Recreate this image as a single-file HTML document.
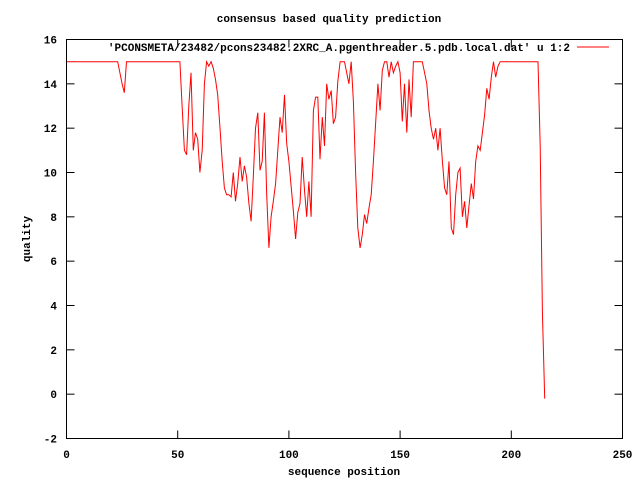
<!DOCTYPE html>
<html><head><meta charset="utf-8"><style>
body{margin:0;background:#fff}
svg{display:block}
text{font-family:"Liberation Mono",monospace;font-weight:bold;font-size:11px;fill:#000}
</style></head><body>
<svg width="640" height="480">
<g id="axes"></g>
<text x="329" y="22" text-anchor="middle">consensus based quality prediction</text>
<text x="344" y="475" text-anchor="middle">sequence position</text>
<text transform="translate(30,239) rotate(-90)" text-anchor="middle">quality</text>
<text x="570" y="51" text-anchor="end">'PCONSMETA/23482/pcons23482.2XRC_A.pgenthreader.5.pdb.local.dat' u 1:2</text>
<line x1="577" y1="47" x2="609" y2="47" stroke="#f00" stroke-width="1"/>
<path id="series" fill="none" stroke="#f00" stroke-width="1"/>
<rect x="66.5" y="39.5" width="556" height="399" fill="none" stroke="#000"/>
</svg>
<script>
const xTicks=[0,50,100,150,200,250];
const yTicks=[-2,0,2,4,6,8,10,12,14,16];
const quality=[15,15,15,15,15,15,15,15,15,15,15,15,15,15,15,15,15,15,15,15,15,15,15,15,14.5,14,13.6,15,15,15,15,15,15,15,15,15,15,15,15,15,15,15,15,15,15,15,15,15,15,15,15,15,
13,11,10.8,13,14.5,11,11.8,11.5,10,11,14,15,14.8,15,14.7,14.2,13.5,12,10.5,9.3,9,9,8.9,10,8.7,9.5,10.7,9.6,10.3,9.8,8.6,7.8,9.8,12,12.7,10.1,10.5,12.7,9,6.6,8,8.7,9.5,11,12.5,11.8,13.5,11.3,10.5,9.4,8.3,7,8.2,8.6,10.7,9.2,8,9.6,8,12.8,13.4,13.4,10.6,12.5,11.2,14,13.3,13.7,12.2,12.5,14.1,15,15,15,14.5,14,15,13.2,10,7.5,6.6,7.2,8.1,7.7,8.4,9,10.5,12.2,14,12.8,14.6,15,15,14.3,15,14.5,14.8,15,14.5,12.3,14,11.8,14.2,12.5,15,15,15,15,15,14.5,14,12.8,12,11.5,12,11,12,10.5,9.3,9,10.5,7.5,7.2,9,10,10.2,8,8.7,7.5,8.5,9.5,8.8,10.5,11.2,11,11.8,12.6,13.8,13.3,14.3,15,14.3,14.8,15,15,15,15,15,15,15,15,15,15,15,15,15,15,15,15,15,15,11.2,3.7,-0.2];
const X=v=>66.5+v*556/250, Y=v=>438.5-(v+2)*399/18;
const NS="http://www.w3.org/2000/svg", g=document.getElementById('axes');
function mk(t,a){const e=document.createElementNS(NS,t);for(const k in a)e.setAttribute(k,a[k]);g.appendChild(e);return e;}
xTicks.forEach(v=>{const x=X(v);
const t1=mk('line',{x1:x,y1:438.5,x2:x,y2:430.5,stroke:'#000'});


const t2=mk('line',{x1:x,y1:39.5,x2:x,y2:47.5,stroke:'#000'});


const l=mk('text',{x:x,y:458,'text-anchor':'middle'});l.textContent=v;

});
yTicks.forEach(v=>{const y=Y(v);
const t1=mk('line',{x1:66.5,y1:y,x2:74.5,y2:y,stroke:'#000'});


const t2=mk('line',{x1:622.5,y1:y,x2:614.5,y2:y,stroke:'#000'});


const l=mk('text',{x:57,y:y+4,'text-anchor':'end'});l.textContent=v;

});
document.getElementById('series').setAttribute('d',quality.map((v,i)=>(i?'L':'M')+X(i).toFixed(1)+' '+Y(v).toFixed(1)).join(' '));
</script>
</body></html>
